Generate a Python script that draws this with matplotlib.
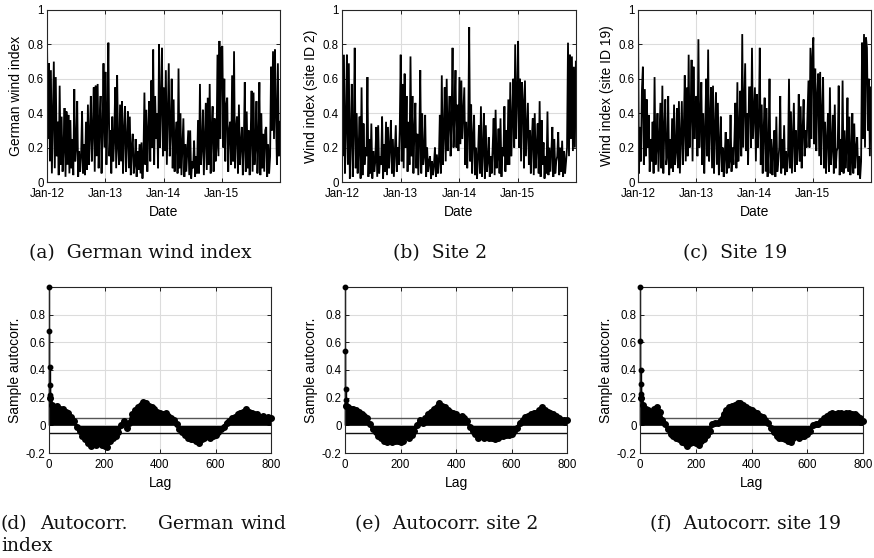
import numpy as np
import pandas as pd
import matplotlib
matplotlib.use('Agg')
import matplotlib.pyplot as plt

# ---------------- data ----------------
year_labels = ['Jan-12', 'Jan-13', 'Jan-14', 'Jan-15']
year_ticks = ['2012-01-01', '2013-01-01', '2014-01-01', '2015-01-01']

german_wind = [
    0.83, 0.25, 0.69, 0.12, 0.65,  0.05, 0.39, 0.70, 0.08, 0.61,  0.15, 0.35, 0.04, 0.56, 0.10,
    0.38, 0.06, 0.20, 0.43, 0.03,  0.41, 0.10, 0.39, 0.05, 0.36,  0.08, 0.25, 0.04, 0.54, 0.12,
    0.20, 0.47, 0.03, 0.18, 0.06,  0.15, 0.41, 0.05, 0.22, 0.04,  0.35, 0.07, 0.45, 0.10, 0.28,
    0.50, 0.12, 0.30, 0.55, 0.06,  0.56, 0.15, 0.57, 0.08, 0.35,  0.50, 0.05, 0.30, 0.69, 0.20,
    0.64, 0.10, 0.38, 0.81, 0.15,  0.30, 0.05, 0.38, 0.12, 0.25,  0.55, 0.08, 0.62, 0.20, 0.10,
    0.45, 0.12, 0.47, 0.05, 0.30,  0.44, 0.06, 0.25, 0.41, 0.08,  0.38, 0.04, 0.20, 0.28, 0.05,
    0.10, 0.25, 0.03, 0.18, 0.07,  0.22, 0.05, 0.23, 0.02, 0.15,  0.52, 0.10, 0.42, 0.06, 0.30,
    0.47, 0.12, 0.59, 0.20, 0.77,  0.10, 0.50, 0.25, 0.40, 0.08,  0.80, 0.20, 0.45, 0.78, 0.15,
    0.55, 0.18, 0.65, 0.10, 0.40,  0.69, 0.15, 0.30, 0.60, 0.08,  0.48, 0.06, 0.25, 0.35, 0.05,
    0.66, 0.08, 0.40, 0.04, 0.20,  0.37, 0.03, 0.22, 0.06, 0.18,  0.30, 0.04, 0.30, 0.02, 0.12,
    0.08, 0.24, 0.03, 0.15, 0.05,  0.36, 0.05, 0.57, 0.10, 0.20,  0.42, 0.04, 0.25, 0.46, 0.07,
    0.49, 0.10, 0.57, 0.05, 0.30,  0.44, 0.06, 0.37, 0.12, 0.20,  0.74, 0.15, 0.82, 0.25, 0.78,
    0.79, 0.20, 0.60, 0.12, 0.45,  0.49, 0.06, 0.30, 0.35, 0.10,  0.62, 0.12, 0.76, 0.08, 0.30,
    0.38, 0.05, 0.45, 0.10, 0.22,  0.32, 0.04, 0.20, 0.58, 0.06,  0.41, 0.08, 0.30, 0.04, 0.25,
    0.53, 0.06, 0.52, 0.10, 0.20,  0.47, 0.05, 0.25, 0.58, 0.04,  0.40, 0.08, 0.28, 0.06, 0.30,
    0.32, 0.03, 0.22, 0.05, 0.15,  0.67, 0.30, 0.76, 0.25, 0.77,  0.40, 0.10, 0.69, 0.15, 0.35,
]

site2_wind = [
    0.83, 0.15, 0.74, 0.05, 0.32,  0.74, 0.10, 0.69, 0.02, 0.25,  0.57, 0.03, 0.30, 0.78, 0.08,
    0.40, 0.05, 0.20, 0.38, 0.02,  0.55, 0.04, 0.34, 0.10, 0.20,  0.15, 0.61, 0.03, 0.25, 0.05,
    0.34, 0.02, 0.18, 0.06, 0.12,  0.32, 0.03, 0.33, 0.05, 0.15,  0.10, 0.38, 0.02, 0.22, 0.06,
    0.35, 0.04, 0.32, 0.08, 0.20,  0.36, 0.05, 0.25, 0.03, 0.18,  0.33, 0.06, 0.20, 0.10, 0.30,
    0.74, 0.12, 0.57, 0.08, 0.63,  0.20, 0.50, 0.06, 0.35, 0.10,  0.73, 0.15, 0.50, 0.05, 0.30,
    0.46, 0.08, 0.28, 0.04, 0.25,  0.65, 0.05, 0.40, 0.10, 0.15,  0.39, 0.03, 0.20, 0.06, 0.12,
    0.15, 0.02, 0.12, 0.04, 0.10,  0.20, 0.03, 0.16, 0.05, 0.12,  0.39, 0.05, 0.62, 0.10, 0.28,
    0.55, 0.12, 0.60, 0.18, 0.35,  0.50, 0.15, 0.35, 0.78, 0.20,  0.40, 0.65, 0.20, 0.45, 0.18,
    0.61, 0.22, 0.59, 0.25, 0.40,  0.55, 0.10, 0.35, 0.08, 0.30,  0.90, 0.12, 0.45, 0.05, 0.25,
    0.39, 0.04, 0.20, 0.02, 0.15,  0.33, 0.05, 0.44, 0.03, 0.18,  0.40, 0.02, 0.33, 0.06, 0.12,
    0.26, 0.03, 0.15, 0.05, 0.20,  0.37, 0.04, 0.42, 0.08, 0.15,  0.31, 0.05, 0.37, 0.03, 0.20,
    0.15, 0.44, 0.06, 0.30, 0.10,  0.48, 0.10, 0.58, 0.15, 0.35,  0.60, 0.20, 0.80, 0.25, 0.50,
    0.82, 0.20, 0.60, 0.12, 0.58,  0.47, 0.08, 0.59, 0.15, 0.30,  0.46, 0.10, 0.30, 0.05, 0.25,
    0.37, 0.04, 0.40, 0.08, 0.20,  0.34, 0.05, 0.47, 0.03, 0.36,  0.10, 0.23, 0.02, 0.15, 0.05,
    0.41, 0.04, 0.20, 0.06, 0.18,  0.32, 0.03, 0.25, 0.05, 0.12,  0.15, 0.29, 0.04, 0.20, 0.06,
    0.24, 0.03, 0.18, 0.05, 0.12,  0.20, 0.81, 0.15, 0.74, 0.25,  0.73, 0.18, 0.67, 0.20, 0.70,
]

site19_wind = [
    0.96, 0.05, 0.32, 0.12, 0.53,  0.67, 0.10, 0.54, 0.15, 0.48,  0.20, 0.39, 0.06, 0.25, 0.12,
    0.35, 0.05, 0.61, 0.10, 0.20,  0.40, 0.06, 0.25, 0.46, 0.08,  0.56, 0.05, 0.30, 0.48, 0.10,
    0.15, 0.50, 0.04, 0.25, 0.08,  0.37, 0.06, 0.45, 0.10, 0.18,  0.43, 0.08, 0.47, 0.05, 0.25,
    0.47, 0.10, 0.30, 0.62, 0.12,  0.55, 0.15, 0.74, 0.20, 0.40,  0.71, 0.12, 0.67, 0.25, 0.45,
    0.50, 0.15, 0.83, 0.20, 0.35,  0.58, 0.10, 0.40, 0.05, 0.30,  0.60, 0.15, 0.77, 0.12, 0.35,
    0.55, 0.08, 0.56, 0.05, 0.30,  0.52, 0.10, 0.46, 0.04, 0.20,  0.38, 0.06, 0.20, 0.03, 0.15,
    0.29, 0.05, 0.25, 0.08, 0.12,  0.39, 0.06, 0.20, 0.10, 0.25,  0.46, 0.08, 0.58, 0.12, 0.30,
    0.53, 0.15, 0.86, 0.20, 0.45,  0.69, 0.18, 0.40, 0.10, 0.55,  0.55, 0.20, 0.78, 0.25, 0.40,
    0.55, 0.12, 0.51, 0.20, 0.35,  0.78, 0.10, 0.45, 0.05, 0.30,  0.49, 0.06, 0.43, 0.03, 0.20,
    0.60, 0.05, 0.25, 0.04, 0.18,  0.30, 0.03, 0.38, 0.06, 0.12,  0.20, 0.50, 0.05, 0.25, 0.08,
    0.33, 0.04, 0.18, 0.06, 0.15,  0.60, 0.08, 0.41, 0.05, 0.25,  0.46, 0.06, 0.30, 0.10, 0.20,
    0.51, 0.12, 0.44, 0.08, 0.30,  0.48, 0.15, 0.30, 0.20, 0.40,  0.59, 0.20, 0.78, 0.25, 0.73,
    0.84, 0.22, 0.66, 0.18, 0.50,  0.63, 0.15, 0.64, 0.10, 0.40,  0.61, 0.08, 0.35, 0.05, 0.25,
    0.40, 0.06, 0.55, 0.10, 0.20,  0.39, 0.05, 0.45, 0.08, 0.18,  0.20, 0.56, 0.04, 0.25, 0.06,
    0.59, 0.05, 0.30, 0.08, 0.20,  0.49, 0.06, 0.38, 0.04, 0.15,  0.40, 0.05, 0.34, 0.08, 0.20,
    0.26, 0.04, 0.15, 0.02, 0.12,  0.81, 0.25, 0.86, 0.20, 0.84,  0.78, 0.30, 0.60, 0.15, 0.55,
]

acf_lags = [0, 1, 2, 3, 4, 5] + list(range(10, 801, 10))

acf_german = [
    1.00, 0.68, 0.42, 0.29, 0.22, 0.20,
    0.15, 0.13, 0.14, 0.12, 0.12, 0.10, 0.09, 0.06, 0.03, -0.01,
    -0.04, -0.08, -0.10, -0.13, -0.15, -0.12, -0.14, -0.13, -0.14, -0.15,
    -0.16, -0.11, -0.09, -0.08, -0.05, 0.00, 0.03, -0.02, 0.02, 0.08,
    0.11, 0.13, 0.15, 0.17, 0.16, 0.14, 0.13, 0.12, 0.10, 0.09,
    0.08, 0.09, 0.07, 0.05, 0.04, 0.01, -0.03, -0.05, -0.07, -0.09,
    -0.10, -0.10, -0.11, -0.13, -0.10, -0.09, -0.08, -0.09, -0.08, -0.07,
    -0.05, -0.03, -0.01, 0.02, 0.03, 0.05, 0.06, 0.08, 0.09, 0.10,
    0.12, 0.10, 0.09, 0.08, 0.08, 0.06, 0.07, 0.05, 0.06, 0.05,
]

acf_site2 = [
    1.00, 0.54, 0.26, 0.18, 0.15, 0.14,
    0.13, 0.12, 0.12, 0.11, 0.10, 0.08, 0.07, 0.05, 0.01, -0.03,
    -0.05, -0.08, -0.09, -0.11, -0.12, -0.11, -0.12, -0.11, -0.11, -0.12,
    -0.11, -0.08, -0.09, -0.07, -0.04, 0.00, 0.04, 0.02, 0.05, 0.08,
    0.10, 0.12, 0.13, 0.16, 0.14, 0.13, 0.11, 0.10, 0.09, 0.08,
    0.06, 0.07, 0.05, 0.03, -0.01, -0.04, -0.06, -0.09, -0.08, -0.09,
    -0.08, -0.09, -0.09, -0.10, -0.09, -0.08, -0.08, -0.07, -0.07, -0.06,
    -0.04, -0.02, 0.02, 0.04, 0.06, 0.07, 0.08, 0.09, 0.09, 0.11,
    0.13, 0.11, 0.10, 0.09, 0.08, 0.07, 0.05, 0.04, 0.04, 0.04,
]

acf_site19 = [
    1.00, 0.61, 0.40, 0.30, 0.23, 0.20,
    0.15, 0.12, 0.11, 0.10, 0.12, 0.13, 0.10, 0.04, 0.01, -0.03,
    -0.06, -0.08, -0.09, -0.10, -0.12, -0.13, -0.15, -0.13, -0.12, -0.13,
    -0.14, -0.11, -0.10, -0.07, -0.04, 0.01, 0.02, 0.02, 0.04, 0.08,
    0.11, 0.13, 0.14, 0.15, 0.16, 0.16, 0.15, 0.13, 0.12, 0.11,
    0.10, 0.09, 0.07, 0.06, 0.04, 0.02, -0.02, -0.05, -0.08, -0.09,
    -0.09, -0.10, -0.11, -0.12, -0.09, -0.08, -0.09, -0.08, -0.08, -0.06,
    -0.04, 0.00, 0.01, 0.01, 0.03, 0.05, 0.07, 0.08, 0.09, 0.08,
    0.09, 0.09, 0.08, 0.09, 0.09, 0.08, 0.08, 0.07, 0.05, 0.03,
]

conf_bound = 0.052

top_ylabels = ['German wind index', 'Wind index (site ID 2)', 'Wind index (site ID 19)']
top_captions = ['(a)  German wind index', '(b)  Site 2', '(c)  Site 19']
bottom_captions = [None, '(e)  Autocorr. site 2', '(f)  Autocorr. site 19']

# ---------------- figure ----------------
W, H = 874, 558
plt.rcParams['font.family'] = ['Liberation Sans', 'DejaVu Sans']
fig = plt.figure(figsize=(W / 100, H / 100), dpi=100)


def ax_at(x0, y0, x1, y1):
    return fig.add_axes([x0 / W, 1 - y1 / H, (x1 - x0) / W, (y1 - y0) / H])


def style(ax):
    ax.grid(True, color='#dcdcdc', lw=0.8)
    ax.set_axisbelow(True)
    ax.tick_params(direction='in', length=3, width=0.6, top=True, right=True,
                   labelsize=8.3, colors='#000000')
    ax.tick_params(axis='x', pad=4.5)
    ax.tick_params(axis='y', pad=2.5)
    for s in ax.spines.values():
        s.set_linewidth(0.8)
        s.set_color('#262626')


top_boxes = [(47, 10, 280, 182), (342, 10, 576, 182), (638, 10, 871, 182)]
bot_boxes = [(49, 287, 271, 453), (345, 287, 567, 453), (640, 287, 863, 453)]

series = [german_wind, site2_wind, site19_wind]
for box, vals, ylab in zip(top_boxes, series, top_ylabels):
    ax = ax_at(*box)
    dates = pd.date_range('2012-01-01', '2015-12-31', periods=len(vals))
    ax.plot(dates, vals, color='k', lw=1.3, solid_joinstyle='miter')
    ax.set_xlim(pd.Timestamp('2012-01-01'), pd.Timestamp('2016-01-01'))
    ax.set_ylim(0, 1)
    ax.set_xticks([pd.Timestamp(t) for t in year_ticks])
    ax.set_xticklabels(year_labels)
    ax.set_yticks([0, 0.2, 0.4, 0.6, 0.8, 1.0])
    ax.set_yticklabels(['0', '0.2', '0.4', '0.6', '0.8', '1'])
    ax.set_xlabel('Date', fontsize=10, labelpad=3.5)
    ax.set_ylabel(ylab, fontsize=10, labelpad=3)
    style(ax)

acfs = [acf_german, acf_site2, acf_site19]
n_head = 6  # first lags drawn as separate stems
for box, acf in zip(bot_boxes, acfs):
    ax = ax_at(*box)
    ax.axhline(conf_bound, color='#555555', lw=1.0, zorder=1.5)
    ax.axhline(-conf_bound, color='#111111', lw=1.0, zorder=1.5)
    # leading stems
    ax.vlines(acf_lags[:n_head], 0, acf[:n_head], color='k', lw=1.0, zorder=2,
              clip_on=False)
    ax.plot(acf_lags[:n_head], acf[:n_head], 'o', color='k', ms=3.2, zorder=3,
            clip_on=False)
    # dense band of the remaining lags
    lg = acf_lags[n_head - 1:]
    av = acf[n_head - 1:]
    ax.fill_between(lg, 0, av, color='k', lw=0, zorder=2)
    ax.plot(lg, av, color='k', lw=2.4, marker='o', ms=4, zorder=3,
            clip_on=False)
    ax.set_xlim(0, 800)
    ax.set_ylim(-0.2, 1.0)
    ax.set_xticks([0, 200, 400, 600, 800])
    ax.set_yticks([-0.2, 0, 0.2, 0.4, 0.6, 0.8])
    ax.set_yticklabels(['-0.2', '0', '0.2', '0.4', '0.6', '0.8'])
    ax.set_xlabel('Lag', fontsize=10, labelpad=3.5)
    ax.set_ylabel('Sample autocorr.', fontsize=10, labelpad=3)
    style(ax)

# ---------------- captions ----------------
cap_font = dict(family='DejaVu Serif', fontsize=13.5, color='#111111')


def ftext(x, y, s, ha='center'):
    fig.text(x / W, 1 - y / H, s, ha=ha, va='baseline', **cap_font)


for cx, cap in zip([140, 440, 735], top_captions):
    ftext(cx, 258, cap)

# justified two-line caption (d)
ftext(1, 529, '(d)', ha='left')
ftext(40, 529, 'Autocorr.', ha='left')
ftext(158, 529, 'German', ha='left')
ftext(287, 529, 'wind', ha='right')
ftext(1, 551, 'index', ha='left')

ftext(447, 529, bottom_captions[1])
ftext(745, 529, bottom_captions[2])

fig.savefig('out.png', dpi=100)
